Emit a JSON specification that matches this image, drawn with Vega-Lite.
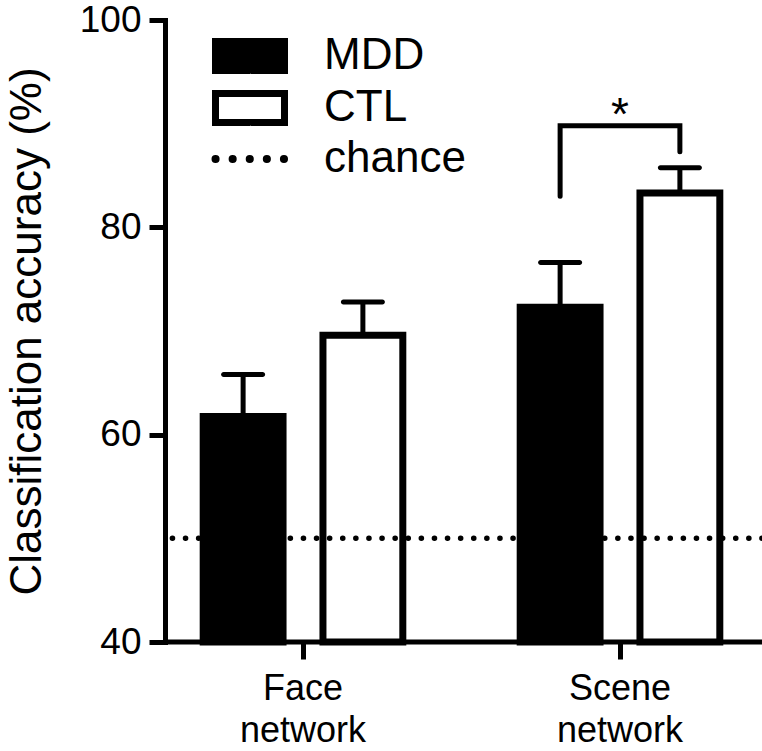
{
  "$schema": "https://vega.github.io/schema/vega-lite/v6.json",
  "width": 597,
  "height": 622,
  "autosize": {"type": "none"},
  "padding": {"left": 165, "top": 20, "right": 0, "bottom": 109},
  "background": "white",
  "config": {
    "font": "Liberation Sans",
    "view": {"stroke": null},
    "axis": {"grid": false, "labelColor": "black", "titleColor": "black", "domainColor": "black", "tickColor": "black"},
    "legend": {"padding": 0}
  },
  "datasets": {
    "bars": [
      {"network": "Face network", "group": "MDD", "acc": 61.75, "upper": 65.8},
      {"network": "Face network", "group": "CTL", "acc": 69.6, "upper": 72.8},
      {"network": "Scene network", "group": "MDD", "acc": 72.3, "upper": 76.6},
      {"network": "Scene network", "group": "CTL", "acc": 83.3, "upper": 85.75}
    ],
    "bracket": [
      {"network": "Scene network", "group": "MDD", "y": 83.0, "o": 1},
      {"network": "Scene network", "group": "MDD", "y": 89.8, "o": 2},
      {"network": "Scene network", "group": "CTL", "y": 89.8, "o": 3},
      {"network": "Scene network", "group": "CTL", "y": 87.3, "o": 4}
    ],
    "star": [{"network": "Scene network", "y": 89.8, "label": "*"}],
    "chance": [{"chance": 50}],
    "base": [{"v": 40}]
  },
  "encoding": {
    "x": {
      "field": "network", "type": "nominal",
      "scale": {"domain": ["Face network", "Scene network"], "range": [-20.5, 613.5], "paddingInner": 0, "paddingOuter": 0},
      "axis": {
        "title": null, "domain": false, "labelAngle": 0,
        "labelExpr": "split(datum.label, ' ')",
        "labelFontSize": 36, "labelLineHeight": 42, "labelPadding": 12,
        "tickSize": 17, "tickWidth": 5, "labelBaseline": "top"
      }
    }
  },
  "layer": [
    {
      "data": {"name": "bars"},
      "mark": {"type": "bar", "stroke": "black", "strokeWidth": 7, "strokeJoin": "miter"},
      "encoding": {
        "xOffset": {"field": "group", "type": "nominal", "scale": {"domain": ["MDD", "CTL"], "paddingInner": 0.3333, "paddingOuter": 0.49}},
        "y": {
          "field": "acc", "type": "quantitative",
          "scale": {"domain": [40, 100], "zero": false, "nice": false},
          "axis": {
            "title": "Classification accuracy (%)", "values": [40, 60, 80, 100],
            "titleFontSize": 44, "titleFontWeight": "normal", "titlePadding": 30,
            "labelFontSize": 37, "labelPadding": 8,
            "tickSize": 16, "tickWidth": 5, "domainWidth": 5, "domainCap": "square"
          }
        },
        "y2": {"datum": 40},
        "fill": {
          "field": "group", "type": "nominal",
          "scale": {"domain": ["MDD", "CTL", "chance"], "range": ["black", "white", "white"]},
          "legend": {
            "orient": "none", "legendX": 63, "legendY": 14, "title": null,
            "symbolType": "M-2,-0.84H2V0.84H-2Z", "symbolSize": 1190,
            "symbolStrokeWidth": 7, "symbolStrokeColor": "black",
            "labelFontSize": 44, "labelOffset": 52, "rowPadding": -6, "labelColor": "black",
            "encode": {
              "symbols": {
                "update": {
                  "shape": {"signal": "datum.value === 'chance' ? 'M-2,0H2.2' : 'M-2,-0.84H2V0.84H-2Z'"},
                  "strokeDash": {"signal": "datum.value === 'chance' ? [0.1, 17] : [1, 0]"},
                  "strokeCap": {"signal": "datum.value === 'chance' ? 'round' : 'butt'"},
                  "fill": {"signal": "datum.value === 'MDD' ? 'black' : (datum.value === 'CTL' ? 'white' : 'transparent')"},
                  "stroke": {"value": "black"},
                  "strokeWidth": {"signal": "datum.value === 'chance' ? 8 : 7"}
                }
              }
            }
          }
        }
      }
    },
    {
      "data": {"name": "bars"},
      "mark": {"type": "rule", "strokeWidth": 5, "color": "black"},
      "encoding": {
        "xOffset": {"field": "group", "type": "nominal"},
        "y": {"field": "acc", "type": "quantitative"},
        "y2": {"field": "upper"}
      }
    },
    {
      "data": {"name": "bars"},
      "mark": {"type": "tick", "size": 44, "thickness": 5, "color": "black", "opacity": 1, "cornerRadius": 2.5},
      "encoding": {
        "xOffset": {"field": "group", "type": "nominal"},
        "y": {"field": "upper", "type": "quantitative"}
      }
    },
    {
      "data": {"name": "bracket"},
      "mark": {"type": "line", "strokeWidth": 5, "color": "black", "strokeJoin": "miter", "strokeCap": "round"},
      "encoding": {
        "xOffset": {"field": "group", "type": "nominal"},
        "y": {"field": "y", "type": "quantitative"},
        "order": {"field": "o", "type": "quantitative"}
      }
    },
    {
      "data": {"name": "star"},
      "mark": {"type": "text", "fontSize": 46, "baseline": "alphabetic", "dy": 4, "color": "black"},
      "encoding": {
        "y": {"field": "y", "type": "quantitative"},
        "text": {"field": "label"}
      }
    },
    {
      "data": {"name": "chance"},
      "mark": {"type": "rule", "strokeWidth": 5.5, "strokeDash": [0.1, 13], "strokeCap": "round", "color": "black"},
      "encoding": {
        "x": null,
        "y": {"field": "chance", "type": "quantitative"}
      }
    },
    {
      "data": {"name": "base"},
      "mark": {"type": "rule", "strokeWidth": 5, "color": "black"},
      "encoding": {
        "x": null,
        "y": {"field": "v", "type": "quantitative"}
      }
    }
  ]
}
